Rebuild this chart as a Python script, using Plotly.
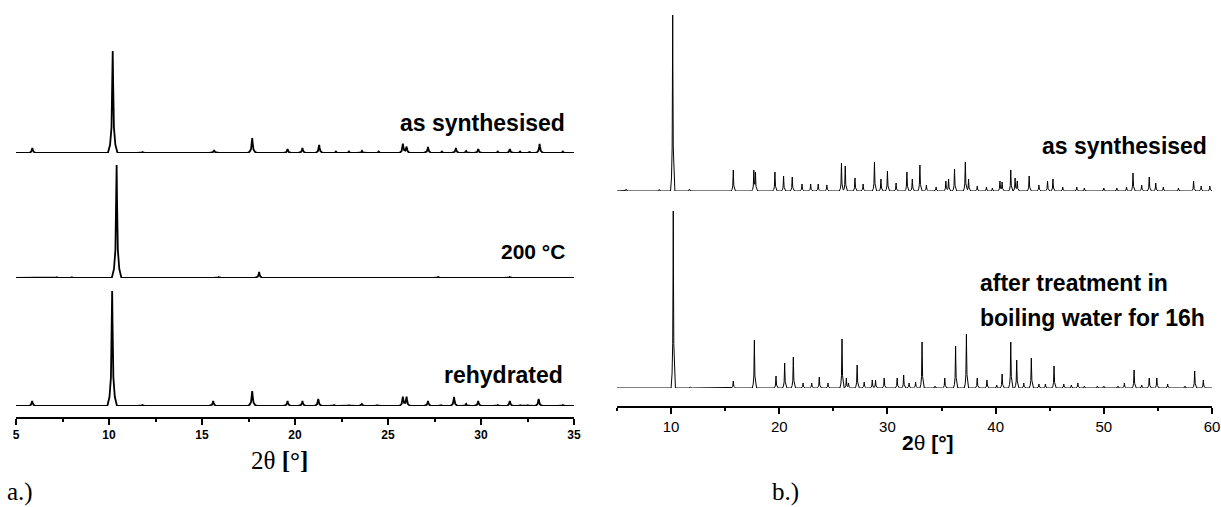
import numpy as np
import plotly.graph_objects as go

W, H = 1221, 507

# ---------------- data (peak positions in deg 2theta, intensities in a.u.) ----------------
a_syn_pos = [5.88, 10.2, 11.8, 15.65, 17.7, 19.6, 20.4, 21.3, 22.2, 22.9, 23.6, 24.5, 25.8, 26.0,
             27.15, 27.9, 28.65, 29.2, 29.85, 30.9, 31.55, 32.1, 32.6, 33.15, 34.4]
a_syn_int = [5, 102, 1, 3, 15, 4, 5, 8, 1.5, 1.5, 2, 1.5, 9, 6,
             6, 1.5, 5, 2, 4, 1.5, 4, 1.5, 1.5, 9, 1.5]

a_200_pos = [7.2, 8.0, 10.41, 15.9, 18.07, 21.5, 27.7, 31.55]
a_200_int = [0.8, 0.8, 113, 1, 6, 0.8, 1, 1]

a_reh_pos = [5.87, 10.17, 11.8, 15.6, 17.7, 19.6, 20.4, 21.25, 22.1, 22.9, 23.6, 24.4, 25.8, 26.0,
             27.15, 27.85, 28.55, 29.2, 29.85, 30.9, 31.55, 32.1, 32.5, 33.1, 34.4]
a_reh_int = [5, 115, 1, 5, 15, 5, 5, 7, 1, 1, 2, 1, 9, 9,
             5, 1, 9, 2, 5, 1, 5, 1, 1, 7, 1]

b_syn_pos = [5.85, 8.9, 10.15, 11.7, 15.75, 17.65, 17.8, 19.6, 20.4, 21.2, 22.1, 22.9, 23.6, 24.4,
             25.75, 26.1, 27.0, 27.75, 28.8, 29.4, 30.0, 30.8, 31.8, 32.3, 33.0, 33.6, 34.5,
             35.4, 35.65, 36.2, 37.2, 37.5, 38.3, 39.15, 39.7, 40.4, 40.6, 41.4, 41.8, 42.0,
             43.1, 44.0, 44.8, 45.3, 46.2, 47.5, 48.2, 50.0, 51.2, 52.1, 52.7, 53.5, 54.2,
             54.8, 55.5, 56.9, 58.3, 59.0, 59.8]
b_syn_int = [2, 1.5, 176, 2, 21, 20, 18, 19, 15, 14, 7, 7, 7, 6,
             28, 25, 13, 7, 29, 12, 20, 8, 19, 12, 26, 6, 4,
             10, 12, 22, 29, 12, 5, 4, 3, 10, 9, 21, 13, 10,
             15, 6, 10, 12, 4, 4, 3, 3, 3, 4, 18, 6, 14,
             8, 4, 3, 10, 5, 5]

b_aft_pos = [10.2, 11.8, 15.75, 17.7, 19.7, 20.5, 21.3, 22.2, 23.0, 23.7, 24.5, 25.8, 26.2, 26.4,
             27.2, 27.85, 28.6, 28.9, 29.7, 30.9, 31.5, 32.0, 32.6, 33.2, 34.4, 35.3, 36.3,
             37.3, 38.3, 39.2, 40.1, 40.6, 41.4, 41.95, 42.6, 43.3, 44.0, 44.6, 45.4, 46.3,
             47.0, 47.6, 48.2, 49.4, 50.0, 51.3, 51.9, 52.8, 53.5, 54.2, 54.9, 55.9, 57.5,
             58.4, 59.2]
b_aft_int = [177, 1, 7, 48, 12, 25, 31, 5, 5, 11, 5, 49, 10, 5,
             23, 6, 8, 8, 10, 10, 13, 5, 6, 46, 2, 10, 42,
             54, 10, 8, 3, 14, 46, 28, 5, 30, 4, 4, 22, 4,
             3, 5, 2, 2, 2, 2, 5, 18, 3, 10, 10, 4, 2,
             17, 8]

a_ticks = [5, 10, 15, 20, 25, 30, 35]
a_minor = [7.5, 12.5, 17.5, 22.5, 27.5, 32.5]
b_ticks = [10, 20, 30, 40, 50, 60]
b_minor = [5, 15, 25, 35, 45, 55]


# ---------------- helpers ----------------
def pattern(pos, inten, xmin, xmax, w):
    dx = np.array([-1.0, -0.55, -0.25, -0.08, 0.0, 0.08, 0.25, 0.55, 1.0]) * w
    fr = np.array([0.0, 0.08, 0.25, 0.7, 1.0, 0.7, 0.25, 0.08, 0.0])
    xs = [xmin, xmax]
    for p in pos:
        xs.extend(p + dx)
    xs = np.unique(np.clip(np.array(xs), xmin, xmax))
    ys = np.zeros_like(xs)
    for p, h in zip(pos, inten):
        ys += h * np.interp(xs, p + dx, fr, left=0, right=0)
    return xs, ys


def px(x):
    return x / W


def py(y):
    return 1 - y / H


fig = go.Figure()

traces = [
    (a_syn_pos, a_syn_int, 5, 35, 0.26, "x", "y", 1.8),
    (a_200_pos, a_200_int, 5, 35, 0.26, "x", "y2", 1.8),
    (a_reh_pos, a_reh_int, 5, 35, 0.26, "x", "y3", 1.8),
    (b_syn_pos, b_syn_int, 5, 60, 0.2, "x2", "y4", 1.0),
    (b_aft_pos, b_aft_int, 5, 60, 0.2, "x2", "y5", 1.0),
]
for pos, inten, x0, x1, w, xa, ya, lw in traces:
    xs, ys = pattern(pos, inten, x0, x1, w)
    fig.add_trace(go.Scatter(x=xs, y=ys, mode="lines", xaxis=xa, yaxis=ya,
                             line=dict(color="black", width=lw), hoverinfo="skip",
                             showlegend=False))

baselines = {"yaxis": (153, "x"), "yaxis2": (278, "x"), "yaxis3": (406, "x"),
             "yaxis4": (191, "x2"), "yaxis5": (388, "x2")}
yax = {}
for name, (base, anchor) in baselines.items():
    yax[name] = dict(domain=[py(base), 1], range=[0, base], visible=False,
                     anchor=anchor, fixedrange=True, automargin=False)

axis_common = dict(showline=True, linecolor="black", linewidth=1.5, ticks="outside",
                   tickcolor="black", tickwidth=1.5, ticklen=6, showgrid=False,
                   zeroline=False, fixedrange=True, anchor="free", automargin=False)

fig.update_layout(
    template="none",
    width=W, height=H, margin=dict(l=0, r=0, t=0, b=0, pad=0, autoexpand=False),
    paper_bgcolor="white", plot_bgcolor="rgba(0,0,0,0)",
    xaxis=dict(domain=[px(16), px(574)], range=[5, 35], position=py(418),
               tickmode="array", tickvals=a_ticks,
               tickfont=dict(family="Liberation Sans, Arial", size=12, color="black", weight="bold"),
               minor=dict(tickvals=a_minor, ticks="outside", ticklen=3, tickcolor="black", tickwidth=1.5),
               **axis_common),
    xaxis2=dict(domain=[px(617), px(1212)], range=[5, 60], position=py(407),
                tickmode="array", tickvals=b_ticks,
                tickfont=dict(family="Liberation Sans, Arial", size=15, color="black"),
                minor=dict(tickvals=b_minor, ticks="outside", ticklen=3, tickcolor="black", tickwidth=1.5),
                **axis_common),
    **yax,
)

lab = dict(family="Liberation Sans, Arial", size=23, color="black", weight="bold")
lab_c = dict(family="Liberation Sans, Arial", size=21, color="black", weight="bold")
serif = dict(family="Liberation Serif, Times New Roman", color="black")

ann = [
    dict(text="as synthesised", x=px(567), y=py(123), xanchor="right", yanchor="middle", font=lab),
    dict(text="200 °C", x=px(567), y=py(251), xanchor="right", yanchor="middle", font=lab_c),
    dict(text="rehydrated", x=px(565), y=py(375), xanchor="right", yanchor="middle", font=lab),
    dict(text="2θ <b>[°]</b>", x=px(279), y=py(460), xanchor="center", yanchor="middle",
         font=dict(size=25, **serif)),
    dict(text="a.)", x=px(5), y=py(492), xanchor="left", yanchor="middle", font=dict(size=25, **serif)),
    dict(text="as synthesised", x=px(1209), y=py(146), xanchor="right", yanchor="middle", font=lab),
    dict(text="after treatment in", x=px(978), y=py(283), xanchor="left", yanchor="middle", font=lab),
    dict(text="boiling water for 16h", x=px(978), y=py(318), xanchor="left", yanchor="middle", font=lab),
    dict(text="<b>2</b>θ<b> [°]</b>", x=px(928), y=py(442), xanchor="center", yanchor="middle",
         font=dict(family="Liberation Sans, Arial", size=21, color="black")),
    dict(text="b.)", x=px(770), y=py(492), xanchor="left", yanchor="middle", font=dict(size=25, **serif)),
]
for a in ann:
    fig.add_annotation(xref="paper", yref="paper", showarrow=False, **a)

fig.write_html("out.html", config={"displayModeBar": False},
               post_script="document.body.style.margin='0';document.body.style.overflow='hidden';")
